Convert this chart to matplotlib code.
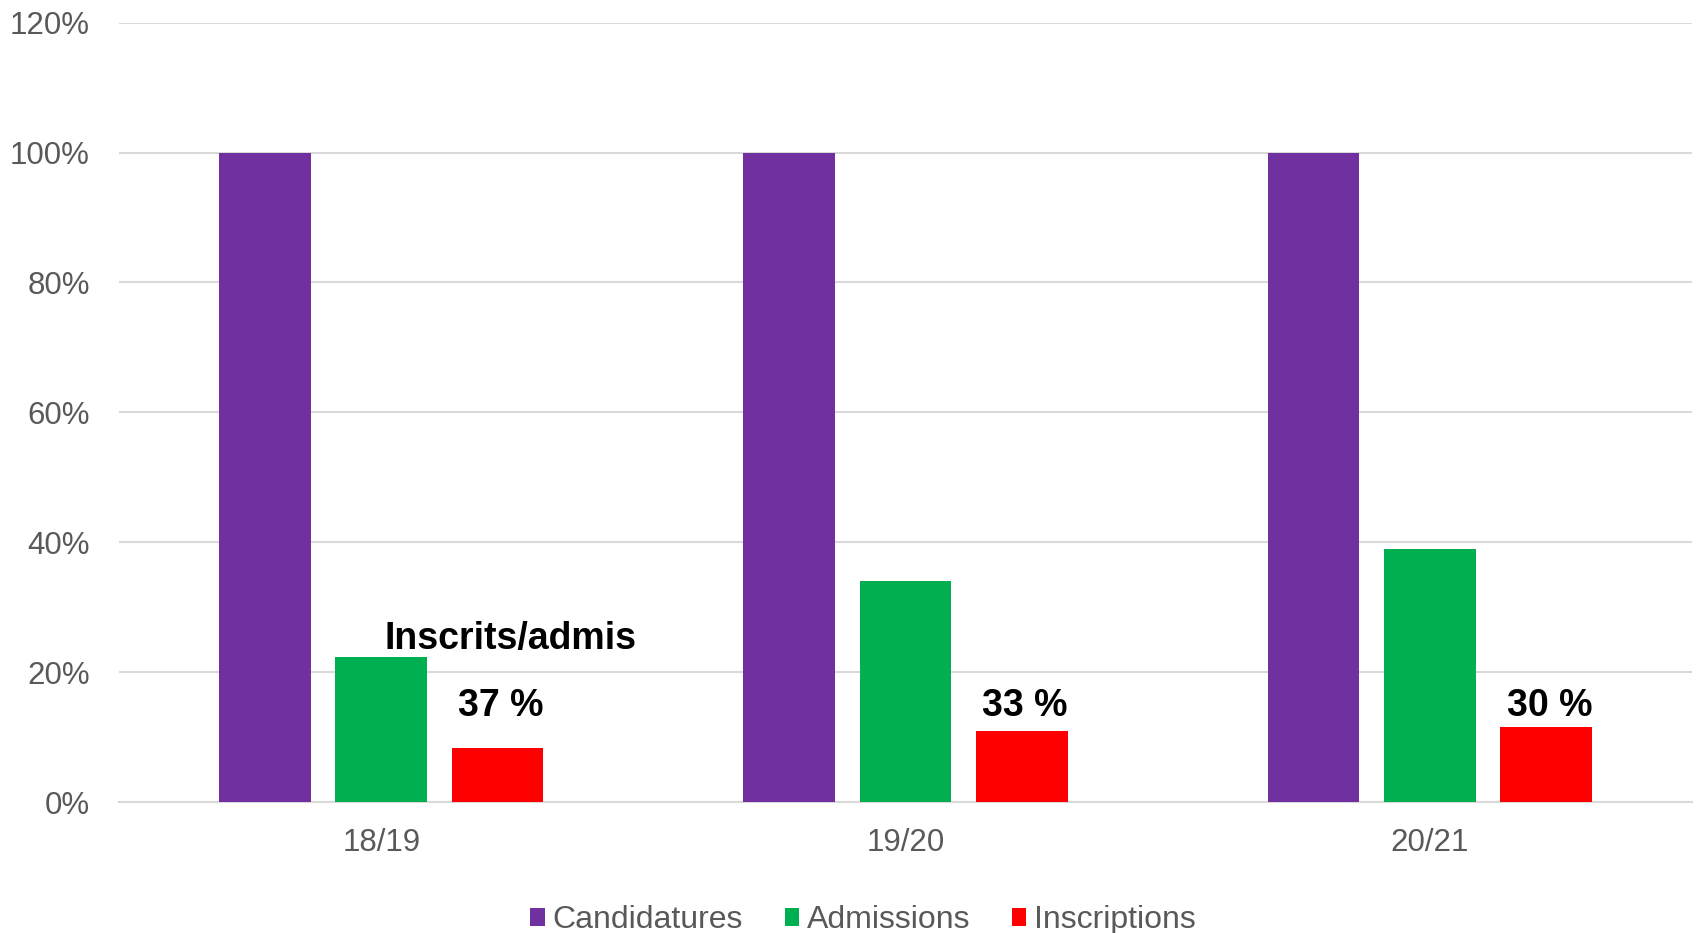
import matplotlib
matplotlib.use("Agg")
import matplotlib.pyplot as plt
import numpy as np

# data
years = ["18/19", "19/20", "20/21"]
candidatures = [100.0, 100.0, 100.0]
admissions = [22.4, 34.1, 38.9]
inscriptions = [8.3, 11.0, 11.6]
ratio_labels = ["37 %", "33 %", "30 %"]
yticks = [0, 20, 40, 60, 80, 100, 120]

plt.rcParams['font.family'] = ['Liberation Sans', 'DejaVu Sans']

grey = "#595959"
grid = "#d9d9d9"
colors = ["#7030a0", "#00b050", "#ff0000"]
names = ["Candidatures", "Admissions", "Inscriptions"]

fig = plt.figure(figsize=(16.96, 9.33), dpi=100)
ax = fig.add_axes([0.0702, 0.1404, 0.9274, 0.8353])

x = np.arange(len(years))
width = 0.1745
pitch = 0.222
for i, (vals, col, name) in enumerate(zip([candidatures, admissions, inscriptions], colors, names)):
    ax.bar(x + (i - 1) * pitch, vals, width, color=col, label=name, zorder=3)

# ratio annotations above the red bars
for xi, lab in zip(x, ratio_labels):
    ax.text(xi + pitch + 0.006, 13.2, lab, ha="center", va="baseline",
            fontsize=27, fontweight="bold", color="black", zorder=4)
ax.text(x[0] + 0.247, 23.5, "Inscrits/admis", ha="center", va="baseline",
        fontsize=27, fontweight="bold", color="black", zorder=4)

ax.set_xlim(-0.5, len(years) - 0.5)
ax.set_ylim(0, 120)
ax.set_yticks(yticks)
ax.set_yticklabels([f"{t}%" for t in yticks])
ax.set_xticks(x)
ax.set_xticklabels(years)
ax.tick_params(axis="both", length=0, labelsize=22.5, labelcolor=grey)
ax.tick_params(axis="y", pad=21)
ax.tick_params(axis="x", pad=19)
ax.yaxis.grid(True, color=grid, linewidth=1.5, zorder=0)
for s in ["top", "right", "left"]:
    ax.spines[s].set_visible(False)
ax.spines["bottom"].set_color(grid)
ax.spines["bottom"].set_linewidth(1.5)

leg = fig.legend(loc="center", bbox_to_anchor=(0.509, 0.0135), ncol=3,
                 frameon=False, fontsize=23, handlelength=0.45, handleheight=0.45,
                 handletextpad=0.25, columnspacing=1.3)
for t in leg.get_texts():
    t.set_color(grey)

fig.savefig("out.png", dpi=100)
